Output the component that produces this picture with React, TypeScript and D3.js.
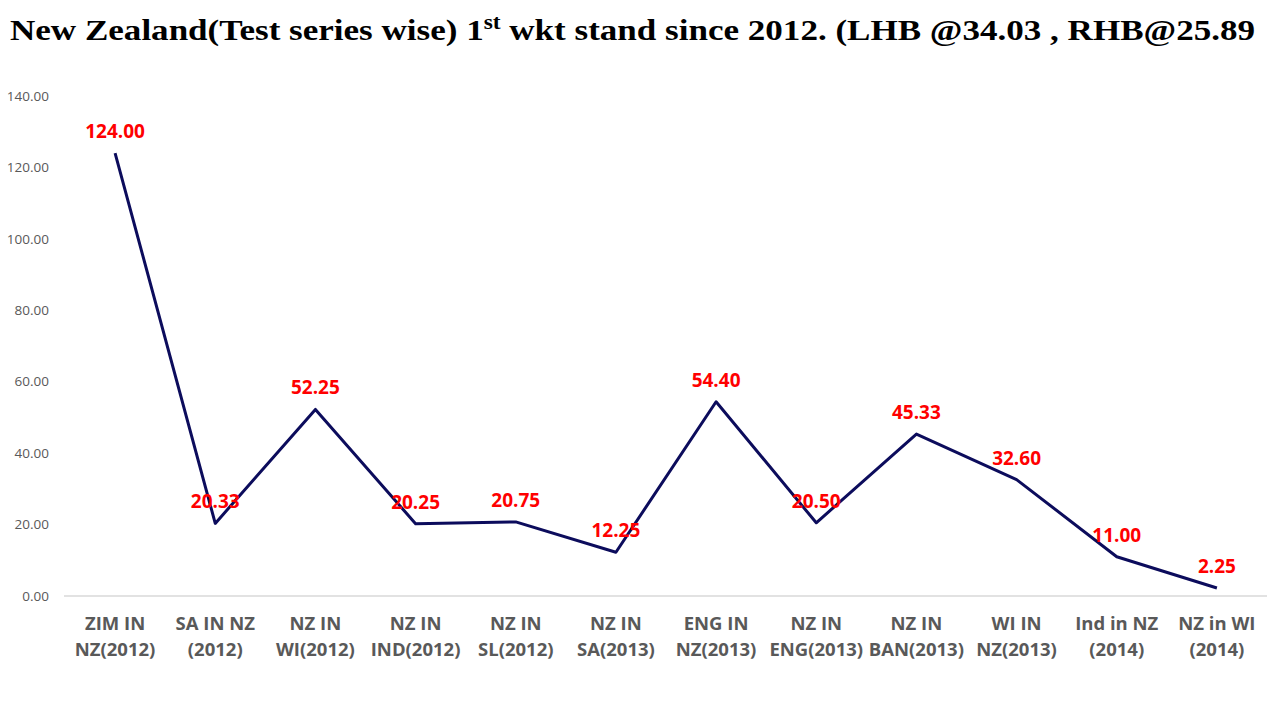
import React from "react";
import * as d3 from "d3";

const categories: string[][] = [
  ["ZIM IN", "NZ(2012)"],
  ["SA IN NZ", "(2012)"],
  ["NZ IN", "WI(2012)"],
  ["NZ IN", "IND(2012)"],
  ["NZ IN", "SL(2012)"],
  ["NZ IN", "SA(2013)"],
  ["ENG IN", "NZ(2013)"],
  ["NZ IN", "ENG(2013)"],
  ["NZ IN", "BAN(2013)"],
  ["WI IN", "NZ(2013)"],
  ["Ind in NZ", "(2014)"],
  ["NZ in WI", "(2014)"],
];
const values: number[] = [124.0, 20.33, 52.25, 20.25, 20.75, 12.25, 54.4, 20.5, 45.33, 32.6, 11.0, 2.25];
const yTicks: number[] = [0, 20, 40, 60, 80, 100, 120, 140];

const W = 1280;
const H = 720;
const left = 65;
const right = 1267;
const top = 96;
const bottom = 596;

export default function App() {
  const ids = categories.map((_, i) => String(i));
  const x = d3.scaleBand<string>().domain(ids).range([left, right]);
  const y = d3.scaleLinear().domain([0, 140]).range([bottom, top]);
  const cx = (i: number) => (x(String(i)) as number) + x.bandwidth() / 2;
  const line = d3
    .line<number>()
    .x((_, i) => cx(i))
    .y((d) => y(d));
  const sans = "'Open Sans', 'Noto Sans', sans-serif";
  return (
    <svg width={W} height={H} style={{ position: "absolute", left: 0, top: 0, background: "#fff" }}>
      <rect x={0} y={0} width={W} height={H} fill="#fff" />
      <text
        x={10}
        y={40}
        fontFamily="'Liberation Serif', 'DejaVu Serif', serif"
        fontWeight="bold"
        fontSize={30}
        fill="#000"
        textLength={1245}
        lengthAdjust="spacingAndGlyphs"
      >
        New Zealand(Test series wise) 1
        <tspan fontSize={20} dy={-11}>st</tspan>
        <tspan dy={11}> wkt stand since 2012. (LHB @34.03 , RHB@25.89</tspan>
      </text>
      {yTicks.map((t) => (
        <text
          key={t}
          x={49}
          y={y(t)}
          dy="0.35em"
          textAnchor="end"
          fontFamily={sans}
          fontSize={13.5}
          fill="#595959"
        >
          {t.toFixed(2)}
        </text>
      ))}
      <line x1={64} x2={1267} y1={bottom} y2={bottom} stroke="#d9d9d9" strokeWidth={1.3} />
      {categories.map((c, i) => (
        <text
          key={i}
          x={cx(i)}
          textAnchor="middle"
          fontFamily={sans}
          fontWeight="bold"
          fontSize={18.5}
          fill="#595959"
        >
          <tspan x={cx(i)} y={630}>{c[0]}</tspan>
          <tspan x={cx(i)} y={656}>{c[1]}</tspan>
        </text>
      ))}
      <path d={line(values) as string} fill="none" stroke="#0c0c5c" strokeWidth={3} strokeLinejoin="round" />
      {values.map((v, i) => (
        <text
          key={i}
          x={cx(i)}
          y={y(v) - 15}
          textAnchor="middle"
          fontFamily={sans}
          fontWeight="bold"
          fontSize={19}
          fill="#ff0000"
        >
          {v.toFixed(2)}
        </text>
      ))}
    </svg>
  );
}
